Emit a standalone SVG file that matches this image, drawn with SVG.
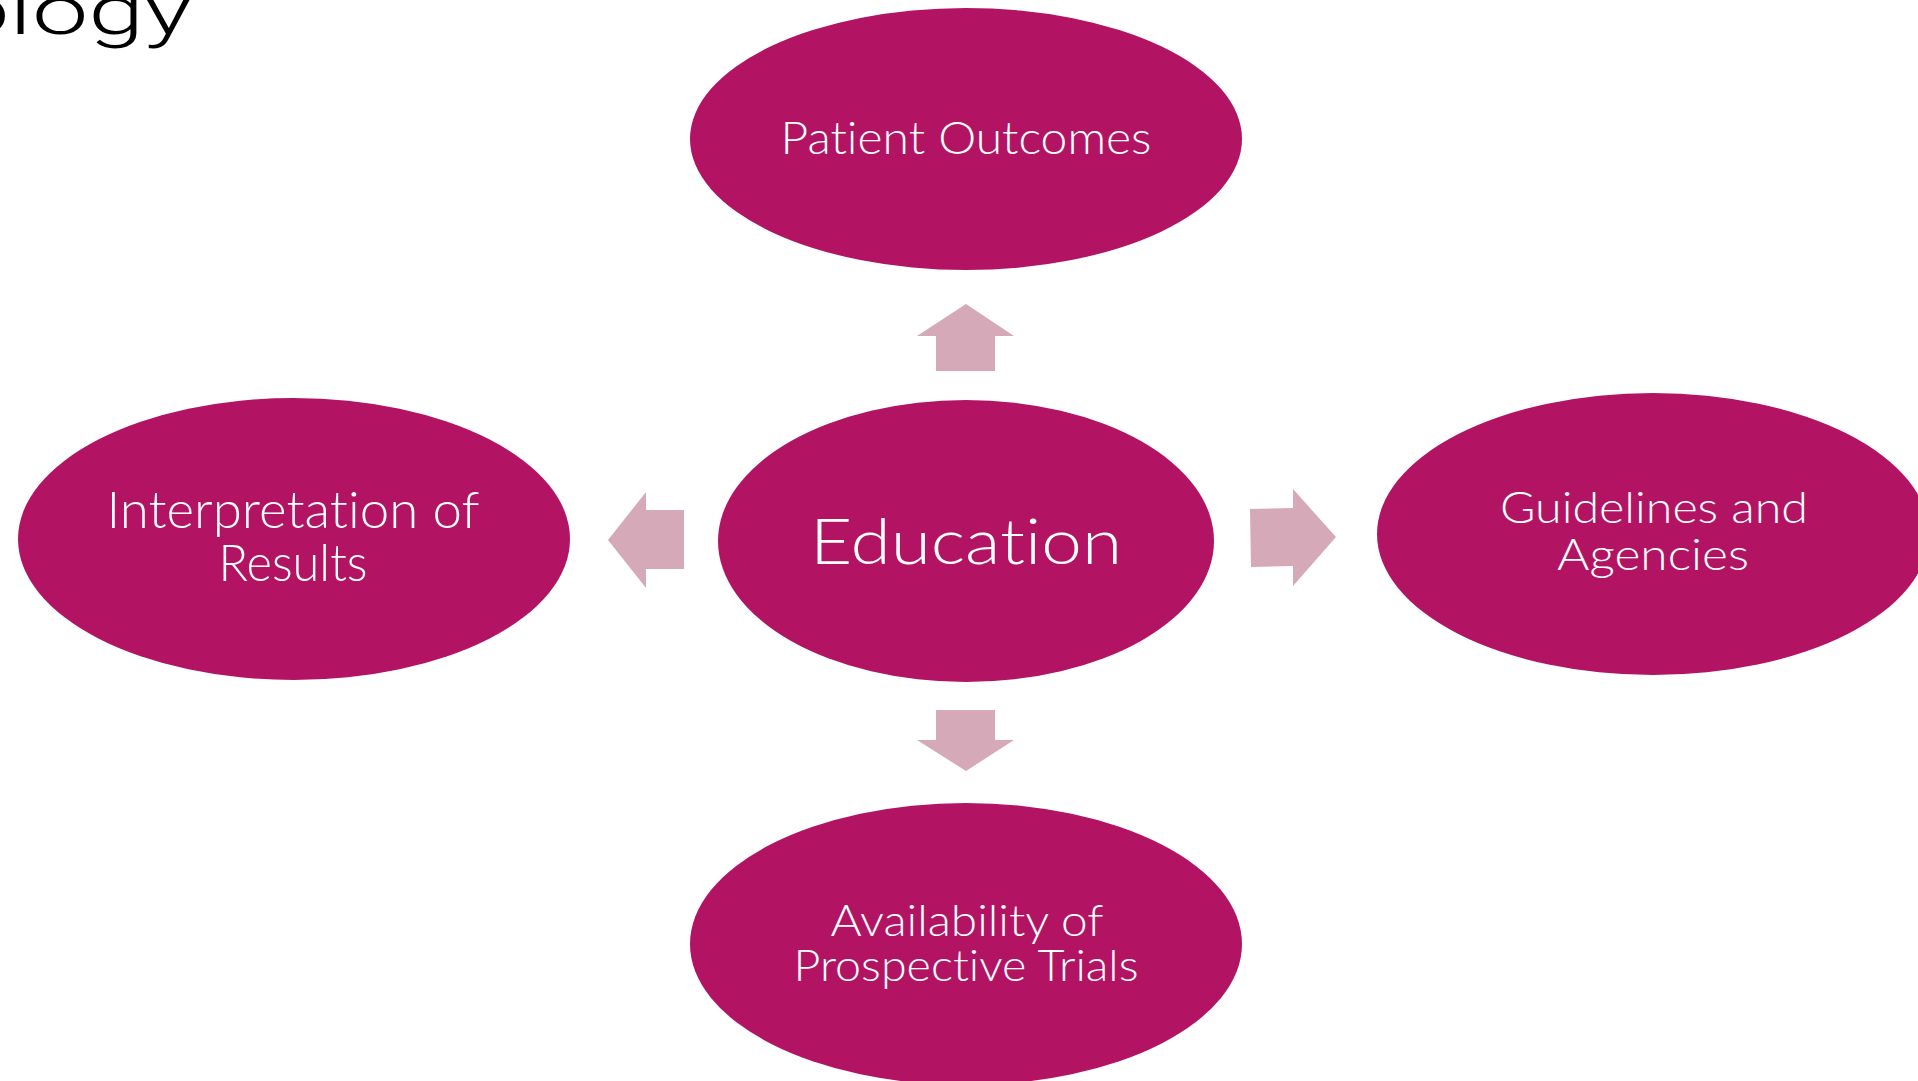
<svg xmlns="http://www.w3.org/2000/svg" width="1918" height="1081" viewBox="0 0 1918 1081">
  <style>
    .node { fill: #B21463; }
    .arrow { fill: #D5A9B7; }
    .label { fill: #FFFFFF; font-family: "Lato", "Liberation Sans", sans-serif; font-weight: 300; text-anchor: middle; font-variant-ligatures: none; }
    .title { fill: #000000; font-family: "Roboto", "Liberation Sans", sans-serif; font-weight: 300; }
  </style>
  <rect width="1918" height="1081" fill="#FFFFFF"/>

  <!-- slide title, running off the left edge -->
  <text class="title" x="-47" y="34" font-size="68" textLength="239" lengthAdjust="spacingAndGlyphs">ology</text>

  <!-- block arrows from the centre node -->
  <g id="connectors">
    <polygon class="arrow" points="966,304 1014,336 995,336 995,371 936,371 936,336 917,336"/>
    <polygon class="arrow" points="608,540 646,492 646,510 684,510 684,569 646,569 646,588"/>
    <polygon class="arrow" points="1336,537 1293,489 1293,508 1250,509 1251,567 1293,566 1293,586"/>
    <polygon class="arrow" points="966,771 1014,740 995,740 995,710 936,710 936,740 917,740"/>
  </g>

  <g id="node-outcomes">
    <ellipse class="node" cx="966" cy="139" rx="276" ry="131"/>
    <text class="label" x="966" y="154" font-size="46" textLength="371" lengthAdjust="spacingAndGlyphs">Patient Outcomes</text>
  </g>

  <g id="node-education">
    <ellipse class="node" cx="966" cy="541" rx="248" ry="141"/>
    <text class="label" x="966" y="564" font-size="64" textLength="312" lengthAdjust="spacingAndGlyphs">Education</text>
  </g>

  <g id="node-interpretation">
    <ellipse class="node" cx="294" cy="539" rx="276" ry="141"/>
    <text class="label" x="293" y="528" font-size="51" textLength="373" lengthAdjust="spacingAndGlyphs">Interpretation of</text>
    <text class="label" x="293" y="581" font-size="51" textLength="149" lengthAdjust="spacingAndGlyphs">Results</text>
  </g>

  <g id="node-guidelines">
    <ellipse class="node" cx="1653" cy="534" rx="276" ry="141"/>
    <text class="label" x="1654" y="523" font-size="44" textLength="308" lengthAdjust="spacingAndGlyphs">Guidelines and</text>
    <text class="label" x="1653" y="570" font-size="44" textLength="192" lengthAdjust="spacingAndGlyphs">Agencies</text>
  </g>

  <g id="node-trials">
    <ellipse class="node" cx="966" cy="944" rx="276" ry="141"/>
    <text class="label" x="967" y="936" font-size="43" textLength="273" lengthAdjust="spacingAndGlyphs">Availability of</text>
    <text class="label" x="966" y="981" font-size="43" textLength="345" lengthAdjust="spacingAndGlyphs">Prospective Trials</text>
  </g>
</svg>
